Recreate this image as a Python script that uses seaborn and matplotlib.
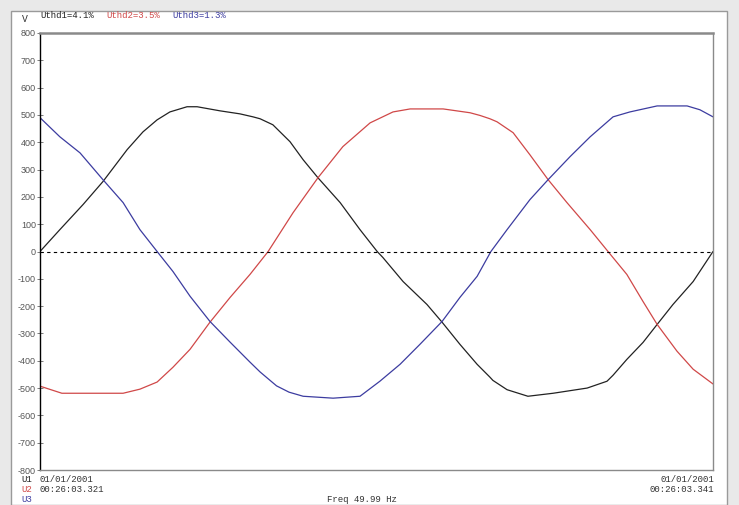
import numpy as np
import pandas as pd
import matplotlib
matplotlib.use("Agg")
import matplotlib.pyplot as plt
import seaborn as sns
from matplotlib.patches import Rectangle

# waveform samples (time in ms, voltage in V)
U1_T = [0, 0.59, 1.28, 1.87, 2.59, 3.06, 3.48, 3.86, 4.37, 4.67, 5.35, 5.94, 6.33, 6.54,
        6.92, 7.43, 7.82, 8.26, 8.92, 9.51, 10.02, 10.19, 10.79, 11.50, 11.95, 12.48,
        12.99, 13.37, 13.46, 13.88, 14.50, 15.25, 16.26, 16.85, 17.03, 17.44, 17.92,
        18.34, 18.81, 19.41, 20.0]
U1_V = [0, 80, 172, 256, 373, 438, 482, 511, 530, 530, 515, 504, 493, 486,
        464, 402, 336, 270, 179, 80, 0, -22, -110, -194, -259, -340,
        -413, -460, -472, -506, -530, -519, -500, -475, -453, -395, -333,
        -267, -194, -110, 0]

U2_T = [0, 0.65, 2.47, 2.97, 3.48, 3.95, 4.46, 5.05, 5.65, 6.24, 6.78, 7.52, 8.26, 9.00,
        9.81, 10.49, 11.00, 11.98, 12.78, 13.08, 13.37, 13.58, 14.06, 14.56, 15.10,
        15.66, 16.35, 16.88, 17.44, 17.92, 18.34, 18.93, 19.41, 20.0]
U2_V = [-493, -519, -519, -504, -478, -424, -358, -259, -168, -84, 0, 142, 270, 384,
        471, 511, 522, 522, 508, 498, 486, 475, 435, 354, 263,
        179, 80, 0, -84, -183, -267, -365, -431, -485]

U3_T = [0, 0.59, 1.19, 1.87, 2.47, 2.97, 3.48, 3.95, 4.46, 5.05, 5.65, 6.24, 6.54,
        7.03, 7.40, 7.82, 8.71, 9.51, 10.10, 10.70, 11.29, 11.95, 12.48, 12.99, 13.40,
        13.88, 14.56, 15.10, 15.75, 16.35, 17.03, 17.53, 18.34, 19.23, 19.61, 20.0]
U3_V = [490, 420, 361, 263, 179, 80, 0, -73, -164, -256, -332, -405, -441,
        -492, -515, -530, -537, -530, -475, -413, -340, -256, -168, -91, 0,
        80, 190, 263, 347, 420, 493, 511, 533, 533, 519, 493]

PHASES = ["U1", "U2", "U3"]
COLORS = {"U1": "#222222", "U2": "#d04848", "U3": "#3c3ca0"}
THD_LABELS = ["Uthd1=4.1%", "Uthd2=3.5%", "Uthd3=1.3%"]
Y_TICKS = list(range(-800, 801, 100))


def build_frame():
    frames = []
    for name, t, v in zip(PHASES, [U1_T, U2_T, U3_T], [U1_V, U2_V, U3_V]):
        frames.append(pd.DataFrame({"t": t, "V": v, "phase": name}))
    return pd.concat(frames, ignore_index=True)


def main():
    sns.set_style("white")
    plt.rcParams["axes.unicode_minus"] = False

    W, H = 739, 505
    fig = plt.figure(figsize=(W / 100, H / 100), dpi=100, facecolor="#e9e9e9")

    # white instrument panel behind everything
    fig.patches.append(Rectangle((11 / W, 0), 716 / W, 1 - 11 / H, transform=fig.transFigure,
                                 facecolor="white", edgecolor="#9a9a9a", linewidth=1.0, zorder=-5))

    ax = fig.add_axes([40 / W, 1 - 470 / H, 673 / W, 437 / H])
    ax.set_facecolor("white")
    ax.set_zorder(2)

    df = build_frame()
    sns.lineplot(data=df, x="t", y="V", hue="phase", palette=COLORS, estimator=None,
                 sort=True, linewidth=0.9, legend=False, ax=ax)

    ax.axhline(0, color="black", linestyle=(0, (3, 3)), linewidth=0.8)

    ax.set_xlim(0, 20)
    ax.set_ylim(-800, 800)
    ax.set_xticks([])
    ax.set_yticks(Y_TICKS)
    ax.set_yticklabels([str(v) for v in Y_TICKS], fontsize=6.5, color="#555555",
                       family="Liberation Sans")
    ax.tick_params(axis="y", direction="inout", length=4, width=0.6, color="#666666", pad=1, left=True)
    ax.set_xlabel("")
    ax.set_ylabel("")

    for side in ["top", "right", "bottom"]:
        ax.spines[side].set_color("#8a8a8a")
    ax.spines["top"].set_linewidth(1.8)
    ax.spines["right"].set_linewidth(1.0)
    ax.spines["bottom"].set_linewidth(1.0)
    ax.spines["left"].set_color("black")
    ax.spines["left"].set_linewidth(1.0)

    mono = "Liberation Mono"
    fs = 6.5
    fig.text(22 / W, 1 - 19 / H, "V", fontsize=7, family=mono, va="center", color="#333333")
    for label, x0, name in zip(THD_LABELS, [40, 106, 172], PHASES):
        fig.text(x0 / W, 1 - 16 / H, label, fontsize=fs, family=mono, va="center", color=COLORS[name])

    rows = [480, 490, 500]
    left_texts = ["01/01/2001", "00:26:03.321", ""]
    for name, y, txt in zip(PHASES, rows, left_texts):
        fig.text(21 / W, 1 - y / H, name, fontsize=fs, family=mono, va="center", color=COLORS[name])
        if txt:
            fig.text(40 / W, 1 - y / H, txt, fontsize=fs, family=mono, va="center", color="#333333")
    fig.text(714 / W, 1 - rows[0] / H, "01/01/2001", fontsize=fs, family=mono, va="center", ha="right", color="#333333")
    fig.text(714 / W, 1 - rows[1] / H, "00:26:03.341", fontsize=fs, family=mono, va="center", ha="right", color="#333333")
    fig.text(362 / W, 1 - rows[2] / H, "Freq 49.99 Hz", fontsize=fs, family=mono, va="center", ha="center", color="#333333")

    fig.savefig("out.png", dpi=100, facecolor=fig.get_facecolor())
    plt.close(fig)


if __name__ == "__main__":
    main()
